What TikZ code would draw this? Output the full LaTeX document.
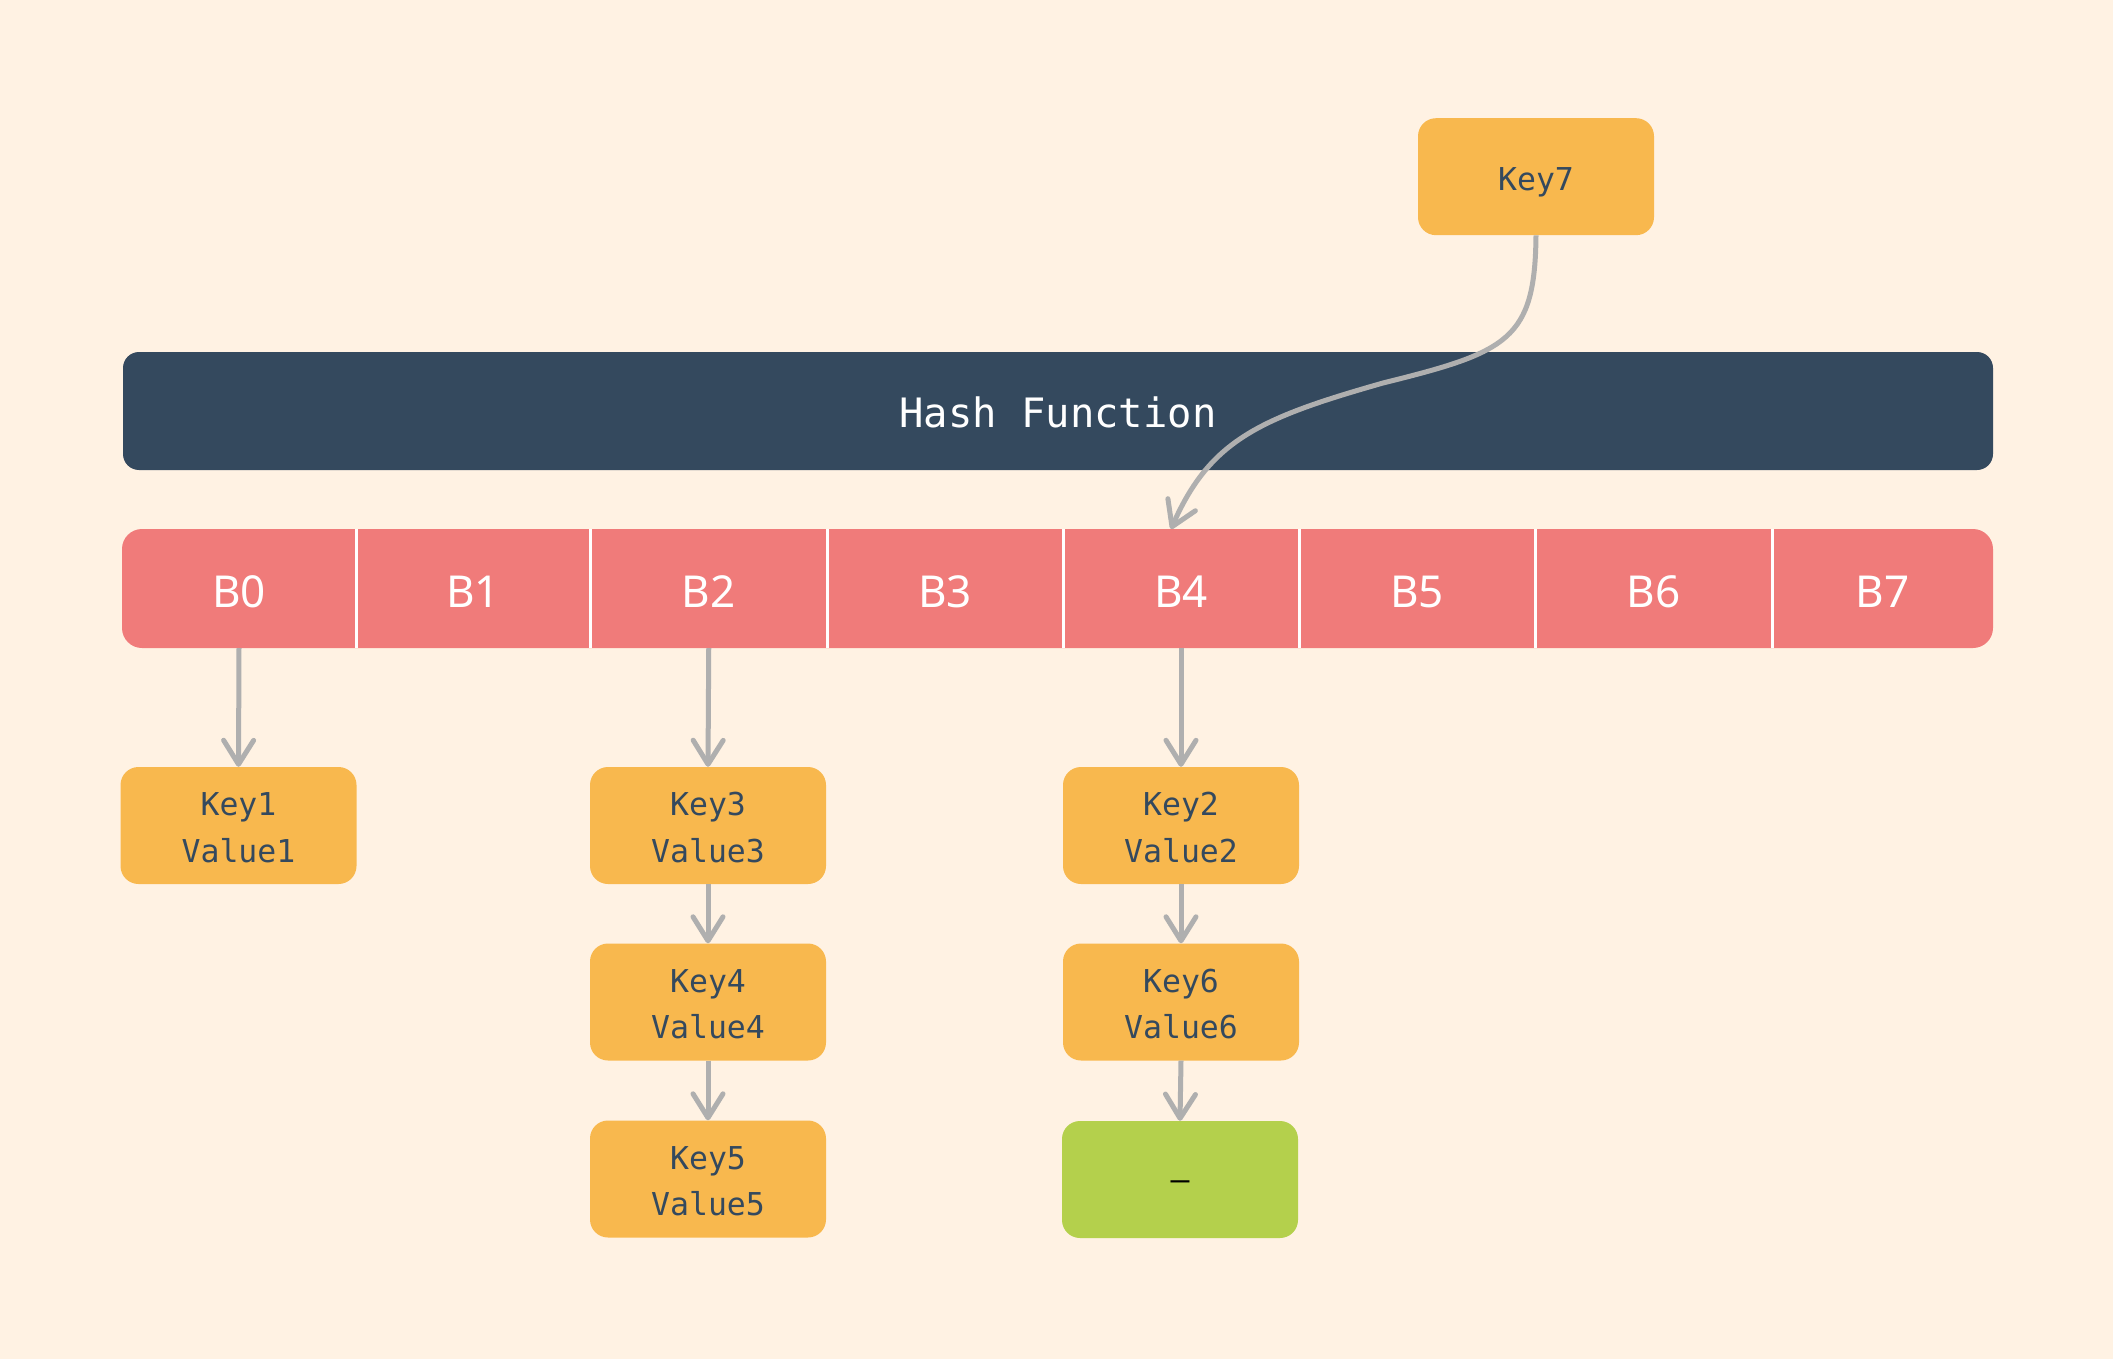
\documentclass[tikz,border=0pt]{standalone}
\usepackage{fontspec}
\usetikzlibrary{arrows.meta}
\newfontfamily\monof{DejaVu Sans Mono}
\newfontfamily\bucketf{Noto Sans}
\definecolor{bgc}{HTML}{FFF2E3}
\definecolor{hashc}{HTML}{34495E}
\definecolor{bucketc}{HTML}{F07B7A}
\definecolor{keyc}{HTML}{F8B84E}
\definecolor{greenc}{HTML}{B4D04C}
\definecolor{txtc}{HTML}{34495E}
\definecolor{arrc}{HTML}{AFAFAF}
% text placed with its (first) baseline a fixed distance from the box centre
\newcommand\kvtext[2]{\raisebox{9.7pt}[0pt][0pt]{\begin{tabular}[t]{@{}c@{}}#1\\#2\end{tabular}}}
\newcommand\onetext[2]{\raisebox{#1}[0pt][0pt]{#2}}
\begin{document}
\begin{tikzpicture}[x=1pt,y=-1pt,
  kvbox/.style={fill=keyc, rounded corners=18pt, minimum width=236pt, minimum height=117pt,
    inner sep=0pt, text=txtc, font=\monof\fontsize{31.5}{46.6}\selectfont},
  nullbox/.style={kvbox, fill=greenc, text=black},
  bucket/.style={inner sep=0pt, minimum height=119pt, text=white,
    font=\bucketf\fontsize{44}{50}\selectfont},
  divider/.style={draw=white, line width=3pt},
  arr/.style={draw=arrc, line width=5pt,
    -{Straight Barb[length=24pt,width=30pt,line width=5pt,round]}}]
\useasboundingbox (0,0) rectangle (2113,1359);
\fill[bgc] (0,0) rectangle (2113,1359);

% hash function bar
\node[fill=hashc, rounded corners=16pt, minimum width=1870pt, minimum height=118pt,
  inner sep=0pt, text=white, font=\monof\fontsize{40.5}{50}\selectfont]
  (hash) at (1058,411) {\onetext{-16.3pt}{Hash Function}};

% bucket row background
\fill[bucketc, rounded corners=20pt] (122,529) rectangle (1993,648);
\node[bucket, minimum width=234pt] (b0) at (239,588.5) {\onetext{-18.8pt}{B0}};
\node[bucket, minimum width=234.5pt] (b1) at (473.25,588.5) {\onetext{-18.8pt}{B1}};
\node[bucket, minimum width=236.5pt] (b2) at (708.75,588.5) {\onetext{-18.8pt}{B2}};
\node[bucket, minimum width=236pt] (b3) at (945,588.5) {\onetext{-18.8pt}{B3}};
\node[bucket, minimum width=236pt] (b4) at (1181,588.5) {\onetext{-18.8pt}{B4}};
\node[bucket, minimum width=236pt] (b5) at (1417,588.5) {\onetext{-18.8pt}{B5}};
\node[bucket, minimum width=237pt] (b6) at (1653.5,588.5) {\onetext{-18.8pt}{B6}};
\node[bucket, minimum width=221pt] (b7) at (1882.5,588.5) {\onetext{-18.8pt}{B7}};
\foreach \b in {b0,b1,b2,b3,b4,b5,b6}
  \draw[divider] (\b.north east) -- (\b.south east);

% key/value boxes
\node[kvbox] (k7) at (1536,176.7) {\onetext{-14pt}{Key7}};
\node[kvbox] (k1) at (238.5,825.5) {\kvtext{Key1}{Value1}};
\node[kvbox] (k3) at (708,825.5) {\kvtext{Key3}{Value3}};
\node[kvbox] (k4) at (708,1002) {\kvtext{Key4}{Value4}};
\node[kvbox] (k5) at (708,1179) {\kvtext{Key5}{Value5}};
\node[kvbox] (k2) at (1181,825.5) {\kvtext{Key2}{Value2}};
\node[kvbox] (k6) at (1181,1002) {\kvtext{Key6}{Value6}};
\node[nullbox] (kn) at (1180,1179.5) {\onetext{-11pt}{–}};

% connectors
\draw[arr] (b0.south) -- (k1.north);
\draw[arr] (b2.south) -- (k3.north);
\draw[arr] (k3.south) -- (k4.north);
\draw[arr] (k4.south) -- (k5.north);
\draw[arr] (b4.south) -- (k2.north);
\draw[arr] (k2.south) -- (k6.north);
\draw[arr] (k6.south) -- (kn.north);
\coordinate (b4in) at (1171,529);
\draw[arr] (k7.south) .. controls (1535,340) and (1508,352) .. (1383,383)
  .. controls (1260,418) and (1210,440) .. (b4in);
\end{tikzpicture}
\end{document}
